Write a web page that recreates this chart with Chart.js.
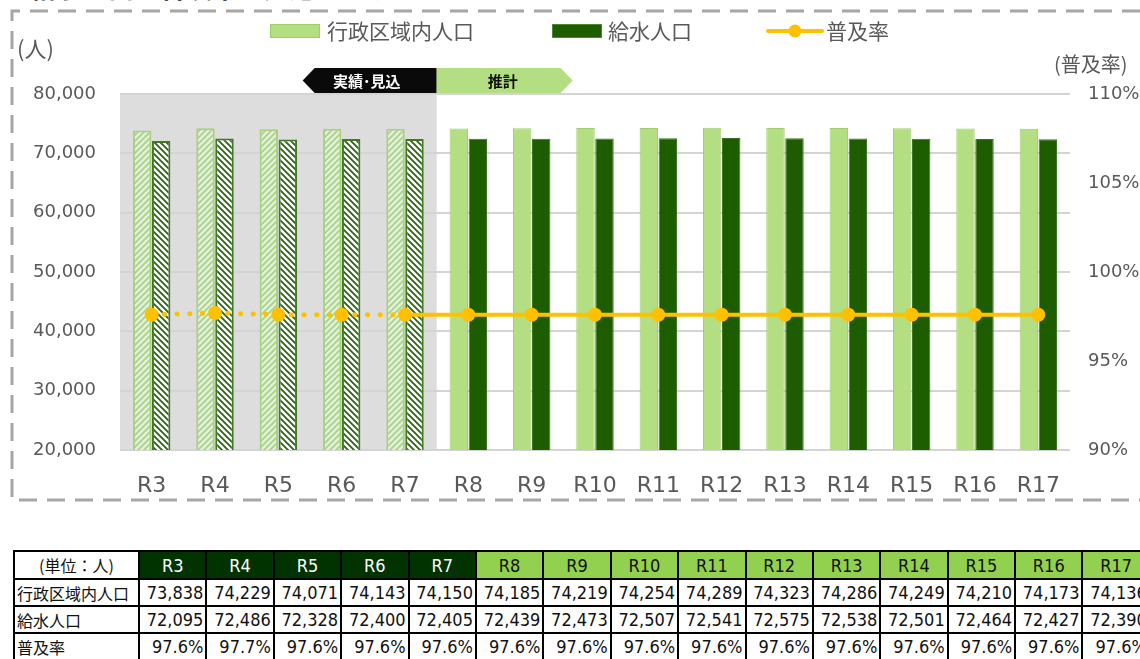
<!DOCTYPE html>
<html lang="ja">
<head>
<meta charset="utf-8">
<script src="https://cdn.jsdelivr.net/npm/chart.js@4.4.1/dist/chart.umd.min.js"></script>
<style>
body{margin:0;width:1140px;height:659px;overflow:hidden;background:#fff;position:relative;font-family:"DejaVu Sans","Noto Sans CJK JP",sans-serif;}
#wrap{position:absolute;left:0;top:0;width:1140px;height:510px;}
#title{position:absolute;left:30px;top:-32px;font:bold 26px "Noto Sans CJK JP";color:#111;white-space:nowrap;}
#tbl{position:absolute;left:13px;top:550px;border-collapse:collapse;table-layout:fixed;width:1136px;}
#tbl td{border:2px solid #000;padding:0 2px;height:25px;font:18px "DejaVu Sans Condensed","Noto Sans CJK JP";color:#111;text-align:right;white-space:nowrap;overflow:hidden;}
#tbl tr:first-child td{height:26px;text-align:center;}
#tbl td.lbl{text-align:left;font:16px "Noto Sans CJK JP";padding-left:2px;}
#tbl td.unit{text-align:center;font:16px "Noto Sans CJK JP";}
#tbl td.hd1{background:#003300;color:#fff;}
#tbl td.hd2{background:#92d050;color:#111;}
</style>
</head>
<body>
<div id="title">給水人口と普及率の見通しです</div>
<div id="wrap"><canvas id="myChart"></canvas></div>
<table id="tbl"></table>
<script>
var years = ['R3','R4','R5','R6','R7','R8','R9','R10','R11','R12','R13','R14','R15','R16','R17'];
var gyouseiPop = [73838,74229,74071,74143,74150,74185,74219,74254,74289,74323,74286,74249,74210,74173,74136];
var kyusuiPop = [72095,72486,72328,72400,72405,72439,72473,72507,72541,72575,72538,72501,72464,72427,72390];
var fukyuRate = [97.6,97.7,97.6,97.6,97.6,97.6,97.6,97.6,97.6,97.6,97.6,97.6,97.6,97.6,97.6];
var leftTicks = [20000,30000,40000,50000,60000,70000,80000];
var rightTicks = [90,95,100,105,110];
var actualCount = 5; // R3-R7 実績・見込

var LIGHT = '#b3de81', DARK = '#1e5c00', GOLD = '#ffc000', GRAY = '#595959';

// hatch patterns for 実績・見込
function makePattern(bg, fg, dir) {
    var c = document.createElement('canvas');
    c.width = 6; c.height = 6;
    var p = c.getContext('2d');
    p.fillStyle = bg; p.fillRect(0, 0, 6, 6);
    p.strokeStyle = fg; p.lineWidth = 1.8;
    p.beginPath();
    if (dir > 0) {
        p.moveTo(-1, 7); p.lineTo(7, -1);
        p.moveTo(-4, 4); p.lineTo(4, -4);
        p.moveTo(2, 10); p.lineTo(10, 2);
    } else {
        p.moveTo(-1, -1); p.lineTo(7, 7);
        p.moveTo(-4, 2); p.lineTo(4, 10);
        p.moveTo(2, -4); p.lineTo(10, 4);
    }
    p.stroke();
    return p.createPattern(c, 'repeat');
}
var lightHatch = makePattern('#e8ede3', '#a6d484', 1);
var darkHatch = makePattern('#ffffff', '#2a6410', -1);

var lightBg = [], lightBorder = [], lightBw = [];
var darkBg = [], darkBorder = [], darkBw = [];
years.forEach(function (y, i) {
    var past = i < actualCount;
    lightBg.push(past ? lightHatch : LIGHT);
    lightBorder.push(past ? '#a6d27f' : '#9fcc6c');
    lightBw.push(past ? 2 : 1);
    darkBg.push(past ? darkHatch : DARK);
    darkBorder.push(past ? '#3f7a22' : '#3a7020');
    darkBw.push(past ? 2 : 1);
});

var decoPlugin = {
    id: 'deco',
    beforeDraw: function (chart) {
        var c = chart.ctx, a = chart.chartArea, xs = chart.scales.x;
        var split = (xs.getPixelForValue(actualCount - 1) + xs.getPixelForValue(actualCount)) / 2;
        c.save();
        // dashed frame
        c.setLineDash([18, 10]);
        c.strokeStyle = '#a6a6a6';
        c.lineWidth = 3;
        c.beginPath();
        c.moveTo(1140, 11); c.lineTo(12, 11); c.lineTo(12, 500); c.lineTo(1140, 500);
        c.stroke();
        c.setLineDash([]);
        // gray zone
        c.fillStyle = '#dddddd';
        c.fillRect(a.left, a.top, split - a.left, a.bottom - a.top);
        c.restore();
    },
    afterDraw: function (chart) {
        var c = chart.ctx, xs = chart.scales.x;
        var split = (xs.getPixelForValue(actualCount - 1) + xs.getPixelForValue(actualCount)) / 2;
        c.save();
        c.fillStyle = GRAY;
        c.textBaseline = 'middle';
        c.font = '22px "Noto Sans CJK JP"';
        c.textAlign = 'left';
        c.fillText('(人)', 17, 49);
        c.font = '20px "Noto Sans CJK JP"';
        c.fillText('(普及率)', 1054, 64);
        // legend
        c.font = '21px "Noto Sans CJK JP"';
        c.fillStyle = LIGHT; c.fillRect(270, 24, 50, 14);
        c.strokeStyle = '#9fcc6c'; c.lineWidth = 1; c.strokeRect(270.5, 24.5, 49, 13);
        c.fillStyle = GRAY; c.fillText('行政区域内人口', 327, 31);
        c.fillStyle = DARK; c.fillRect(552, 24, 50, 14);
        c.strokeStyle = '#4a8a2a'; c.strokeRect(552.5, 24.5, 49, 13);
        c.fillStyle = GRAY; c.fillText('給水人口', 608, 31);
        c.strokeStyle = GOLD; c.lineWidth = 4; c.lineCap = 'round';
        c.beginPath(); c.moveTo(768, 31); c.lineTo(822, 31); c.stroke();
        c.fillStyle = GOLD; c.beginPath(); c.arc(795, 31, 6.5, 0, Math.PI * 2); c.fill();
        c.fillStyle = GRAY; c.fillText('普及率', 826, 31);
        // banners
        var top = 68, bot = 93, mid = (top + bot) / 2;
        c.fillStyle = '#0a0a0a';
        c.beginPath();
        c.moveTo(split, top); c.lineTo(split - 122, top); c.lineTo(split - 134, mid);
        c.lineTo(split - 122, bot); c.lineTo(split, bot); c.closePath(); c.fill();
        c.fillStyle = LIGHT;
        c.beginPath();
        c.moveTo(split, top); c.lineTo(split + 124, top); c.lineTo(split + 136, mid);
        c.lineTo(split + 124, bot); c.lineTo(split, bot); c.closePath(); c.fill();
        c.font = 'bold 15px "Noto Sans CJK JP"';
        c.textAlign = 'center';
        c.fillStyle = '#fff'; c.fillText('実績･見込', split - 70, mid + 1);
        c.fillStyle = '#111'; c.fillText('推計', split + 66, mid + 1);
        c.restore();
    }
};

var ctx = document.getElementById('myChart').getContext('2d');
var myChart = new Chart(ctx, {
    type: 'bar',
    data: {
        labels: years,
        datasets: [
            {
                type: 'line',
                label: '普及率',
                data: fukyuRate,
                yAxisID: 'y1',
                borderColor: GOLD,
                backgroundColor: GOLD,
                borderWidth: 4,
                pointRadius: 7,
                pointHoverRadius: 7,
                pointBorderWidth: 0,
                order: 0,
                segment: {
                    borderDash: function (s) { return s.p0DataIndex < actualCount - 1 ? [0.1, 12.6] : []; },
                    borderWidth: function (s) { return s.p0DataIndex < actualCount - 1 ? 5 : 4; },
                    borderCapStyle: function (s) { return s.p0DataIndex < actualCount - 1 ? 'round' : 'butt'; }
                }
            },
            {
                label: '行政区域内人口',
                data: gyouseiPop,
                backgroundColor: lightBg,
                borderColor: lightBorder,
                borderWidth: lightBw,
                order: 1
            },
            {
                label: '給水人口',
                data: kyusuiPop,
                backgroundColor: darkBg,
                borderColor: darkBorder,
                borderWidth: darkBw,
                order: 1
            }
        ]
    },
    options: {
        responsive: true,
        maintainAspectRatio: false,
        animation: false,
        layout: { padding: { top: 94, left: 0, right: 0, bottom: 0 } },
        datasets: { bar: { categoryPercentage: 0.6, barPercentage: 0.97 } },
        plugins: { legend: { display: false }, tooltip: { enabled: false } },
        scales: {
            x: {
                grid: { display: false },
                border: { display: false },
                ticks: { color: GRAY, font: { family: 'DejaVu Sans', size: 22 }, padding: 15 },
                afterFit: function (s) { s.height = 60; }
            },
            y: {
                position: 'left',
                min: 20000, max: 80000,
                afterBuildTicks: function (s) { s.ticks = leftTicks.map(function (v) { return { value: v }; }); },
                ticks: {
                    color: GRAY, font: { family: 'DejaVu Sans', size: 18 }, padding: 24,
                    callback: function (v) { return v.toLocaleString('en-US'); }
                },
                grid: { color: '#d4d4d4', lineWidth: 2, drawTicks: false },
                border: { display: false },
                afterFit: function (s) { s.width = 120; }
            },
            y1: {
                position: 'right',
                min: 90, max: 110,
                afterBuildTicks: function (s) { s.ticks = rightTicks.map(function (v) { return { value: v }; }); },
                ticks: {
                    color: GRAY, font: { family: 'DejaVu Sans', size: 18 }, padding: 10,
                    callback: function (v) { return v + '%'; }
                },
                grid: { display: false },
                border: { display: false },
                afterFit: function (s) { s.width = 70; }
            }
        }
    },
    plugins: [decoPlugin]
});

// 表
var tbl = document.getElementById('tbl');
var html = '<colgroup><col style="width:125px">';
years.forEach(function () { html += '<col style="width:67.4px">'; });
html += '</colgroup><tr><td class="unit">(単位：人)</td>';
years.forEach(function (y, i) { html += '<td class="' + (i < actualCount ? 'hd1' : 'hd2') + '">' + y + '</td>'; });
html += '</tr><tr><td class="lbl">行政区域内人口</td>';
gyouseiPop.forEach(function (v) { html += '<td>' + v.toLocaleString('en-US') + '</td>'; });
html += '</tr><tr><td class="lbl">給水人口</td>';
kyusuiPop.forEach(function (v) { html += '<td>' + v.toLocaleString('en-US') + '</td>'; });
html += '</tr><tr><td class="lbl">普及率</td>';
fukyuRate.forEach(function (v) { html += '<td>' + v.toFixed(1) + '%</td>'; });
html += '</tr>';
tbl.innerHTML = html;
</script>
</body>
</html>
